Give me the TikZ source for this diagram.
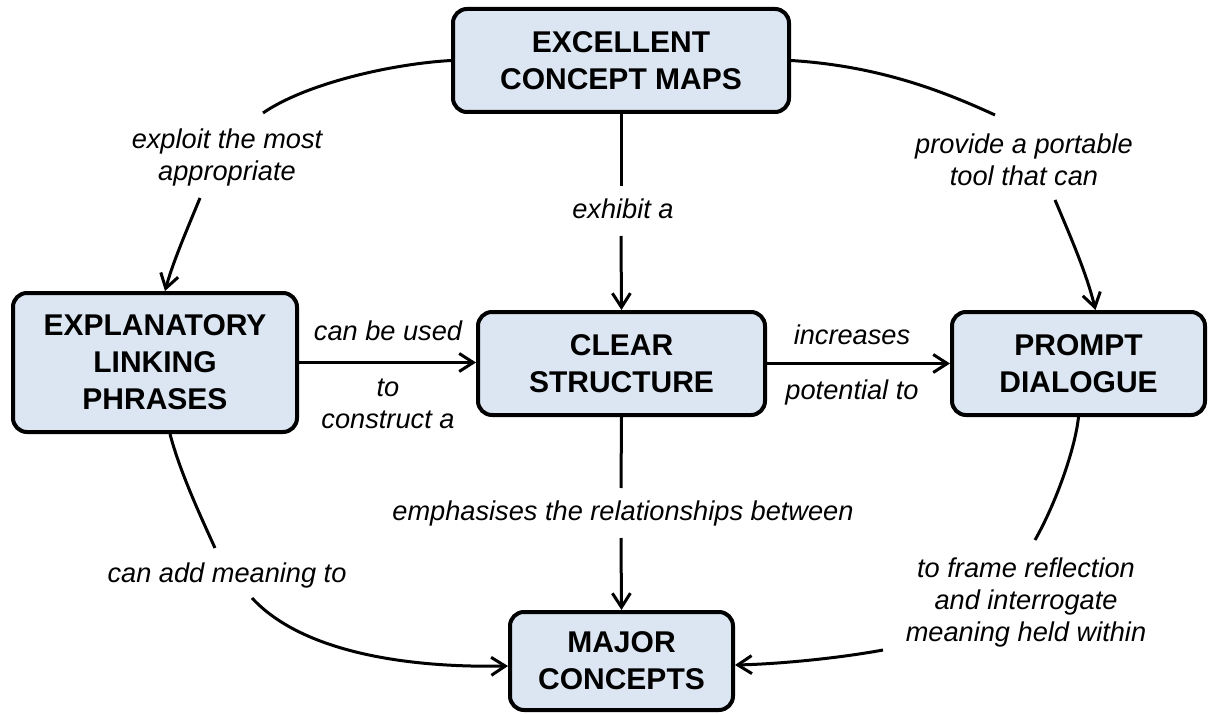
\documentclass[tikz,border=0pt]{standalone}
\usepackage{fontspec}
\setmainfont{Liberation Sans}
\usetikzlibrary{arrows.meta}
\definecolor{boxfill}{HTML}{DCE6F2}
\begin{document}
\begin{tikzpicture}[x=1pt,y=-1pt,
  concept/.style={draw=black, line width=4pt, fill=boxfill, rounded corners=14pt, inner sep=0pt, align=center, font=\fontsize{30}{37}\selectfont\bfseries},
  linklabel/.style={inner sep=0pt, align=center, font=\fontsize{27.2}{32}\selectfont\itshape},
  conn/.style={line width=3pt},
  arr/.style={conn, -{Straight Barb[length=14pt,width=18pt]}}]
\useasboundingbox (0,0) rectangle (1208,714);

% concepts
\node[concept, minimum width=336pt, minimum height=103pt] (ecm) at (621,60.5) {EXCELLENT\\CONCEPT MAPS};
\node[concept, minimum width=284pt, minimum height=139pt] (elp) at (155,362.5) {EXPLANATORY\\LINKING\\PHRASES};
\node[concept, minimum width=287pt, minimum height=103pt] (cs) at (621.5,363.5) {CLEAR\\STRUCTURE};
\node[concept, minimum width=253pt, minimum height=103pt] (pd) at (1078.5,363.5) {PROMPT\\DIALOGUE};
\node[concept, minimum width=223pt, minimum height=98pt] (mc) at (621.5,661) {MAJOR\\CONCEPTS};

% linking phrases
\node[linklabel] (lexploit) at (227,157) {exploit the most\\appropriate};
\node[linklabel] (lprovide) at (1024,160) {provide a portable\\tool that can};
\node[linklabel, anchor=base] (lexhibit) at (623,219) {exhibit a};
\node[linklabel, anchor=base] (lused) at (388,340) {can be used};
\node[linklabel] (lconstruct) at (388,404) {to\\construct a};
\node[linklabel, anchor=base] (lincr) at (852,344) {increases};
\node[linklabel, anchor=base] (lpot) at (852,399) {potential to};
\node[linklabel, anchor=base] (lemph) at (623,520) {emphasises the relationships between};
\node[linklabel, anchor=base] (ladd) at (227,582) {can add meaning to};
\node[linklabel] (lframe) at (1026,602) {to frame reflection\\and interrogate\\meaning held within};

% free ends of connectors at the linking phrases
\coordinate (p1a) at (263,113);
\coordinate (p1b) at (200,198);
\coordinate (p2a) at (995,115);
\coordinate (p2b) at (1055,200);
\coordinate (p3a) at (621,186);
\coordinate (p3b) at (621,236);
\coordinate (p6a) at (621,488);
\coordinate (p6b) at (621,538);
\coordinate (p7a) at (215,548);
\coordinate (p7b) at (252,598);
\coordinate (p8a) at (1035,540);
\coordinate (p8b) at (883,650);

% connectors
\draw[conn] (ecm.west) .. controls (390,64) and (305,84) .. (p1a);
\draw[arr] (p1b) .. controls (186,232) and (173,262) .. ([xshift=10pt]elp.north);

\draw[conn] (ecm.east) .. controls (880,66) and (945,92) .. (p2a);
\draw[arr] (p2b) .. controls (1072,240) and (1087,275) .. ([xshift=17pt]pd.north);

\draw[conn] (ecm.south) -- (p3a);
\draw[arr] (p3b) -- (cs.north);

\draw[arr] (elp.east) -- (elp.east -| cs.west);
\draw[arr] (cs.east) -- (pd.west);

\draw[conn] (cs.south) -- (p6a);
\draw[arr] (p6b) -- (mc.north);

\draw[conn] ([xshift=15pt]elp.south) .. controls (180,472) and (200,515) .. (p7a);
\draw[arr] (p7b) .. controls (300,650) and (400,668) .. ([yshift=-5pt]mc.west);

\draw[conn] (pd.south) .. controls (1075,450) and (1055,505) .. (p8a);
\draw[arr] (p8b) .. controls (840,658) and (780,664) .. ([yshift=-4pt]mc.east);
\end{tikzpicture}
\end{document}
